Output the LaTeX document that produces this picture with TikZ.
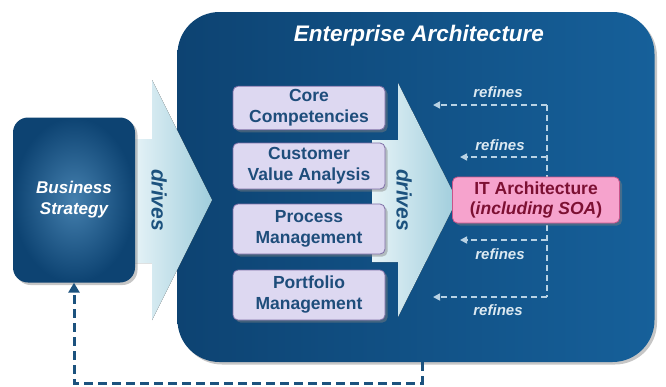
\documentclass[tikz,border=0pt]{standalone}
\usepackage{fontspec}
\setmainfont{Liberation Sans}
\usepackage{xcolor}
\usetikzlibrary{calc,arrows.meta,shadows}

\definecolor{eaDark}{HTML}{0D4372}
\definecolor{eaMid}{HTML}{16609A}
\definecolor{arrLight}{HTML}{E6F3F7}
\definecolor{arrDark}{HTML}{9FCDDC}
\definecolor{boxFill}{HTML}{DDD8F1}
\definecolor{boxLine}{HTML}{7E6FA6}
\definecolor{boxText}{HTML}{1E4D7B}
\definecolor{itFill}{HTML}{F6A3CD}
\definecolor{itLine}{HTML}{C9548A}
\definecolor{itText}{HTML}{7D1033}
\definecolor{refCol}{HTML}{B8D2E4}
\definecolor{backCol}{HTML}{1C527E}

\begin{document}
\begin{tikzpicture}[x=1pt,y=-1pt,
  shad/.style={drop shadow={opacity=0.45,shadow xshift=2.5pt,shadow yshift=-2.5pt}},
  bigarrow/.style={left color=arrLight,right color=arrDark,draw=none},
  task/.style={rectangle,rounded corners=5pt,fill=boxFill,draw=boxLine,line width=0.8pt,shad,
    minimum width=152pt,minimum height=46pt,align=center,text=boxText,
    font=\bfseries\fontsize{17.5}{21}\selectfont},
  refine/.style={draw=refCol,line width=1.6pt,dash pattern=on 6pt off 4pt},
  refinelbl/.style={text=refCol!50!white,font=\bfseries\itshape\fontsize{15}{16}\selectfont},
  driveslbl/.style={rotate=-90,text=backCol,font=\bfseries\itshape\fontsize{21}{23}\selectfont}]
\useasboundingbox (0,0) rectangle (666,386);

\node[rectangle,rounded corners=42pt,minimum width=477pt,minimum height=350pt,
  left color=eaDark,right color=eaMid,shad] (ea) at (416,187) {}; %EA block
\node[text=white,font=\bfseries\itshape\fontsize{22.5}{24}\selectfont] (title) at (419,36) {Enterprise Architecture};

%first arrow, strategy -> EA
\filldraw[bigarrow] (133,139) -- (152,139) -- (152,80) -- (212,200) -- (152,320) -- (152,263) -- (133,263) -- cycle;
\node[driveslbl] (drv1) at (159,200) {drives};

\node[rectangle,rounded corners=15pt,minimum width=122pt,minimum height=165pt,
  inner color=eaMid!80!white,outer color=eaDark,shad,text=white,align=center,
  font=\bfseries\itshape\fontsize{17}{21}\selectfont] (bs) at (74,200) {Business\\Strategy};

%second arrow, tasks -> IT
\filldraw[bigarrow] (372,140) -- (398,140) -- (398,83) -- (457,200) -- (398,317) -- (398,262) -- (372,262) -- cycle;
\node[driveslbl] (drv2) at (404,200) {drives};

\node[task,minimum height=42pt] (core) at (309,108) {Core\\Competencies};
\node[task] (cva) at (309,166) {Customer\\Value Analysis};
\node[task,minimum height=50pt] (proc) at (309,229) {Process\\Management};
\node[task,minimum height=50pt] (port) at (309,295) {Portfolio\\Management};

%refines
\coordinate (sTop) at (547,105);
\coordinate (sBot) at (547,297);
\coordinate (r1) at (433,105);
\coordinate (r2) at (460,157);
\coordinate (r3) at (460,240);
\coordinate (r4) at (433,297);
\draw[refine] (sTop) -- (sBot);
\draw[refine,-{Triangle[length=7pt,width=7pt]}] (sTop) -- (r1);
\draw[refine,-{Triangle[length=7pt,width=7pt]}] (r2 -| sTop) -- (r2);
\draw[refine,-{Triangle[length=7pt,width=7pt]}] (r3 -| sTop) -- (r3);
\draw[refine,-{Triangle[length=7pt,width=7pt]}] (sBot) -- (r4);
\node[refinelbl] (l1) at (498,92) {refines};
\node[refinelbl] (l2) at (500,145) {refines};
\node[refinelbl] (l3) at (500,254) {refines};
\node[refinelbl] (l4) at (498,310) {refines};

\node[rectangle,rounded corners=5pt,fill=itFill,draw=itLine,line width=0.8pt,shad,
  minimum width=167pt,minimum height=46pt,align=center,text=itText,
  font=\bfseries\fontsize{17.5}{20}\selectfont] (it) at (536,200) {IT Architecture\\(\textit{including SOA})};

%feedback to strategy
\coordinate (fb) at (422,383);
\draw[draw=backCol,line width=3pt,dash pattern=on 9pt off 5pt,-{Triangle[length=10pt,width=11pt]}]
  (fb |- ea.south) -- (fb) -- (fb -| bs.south) -- (bs.south);
\end{tikzpicture}
\end{document}
